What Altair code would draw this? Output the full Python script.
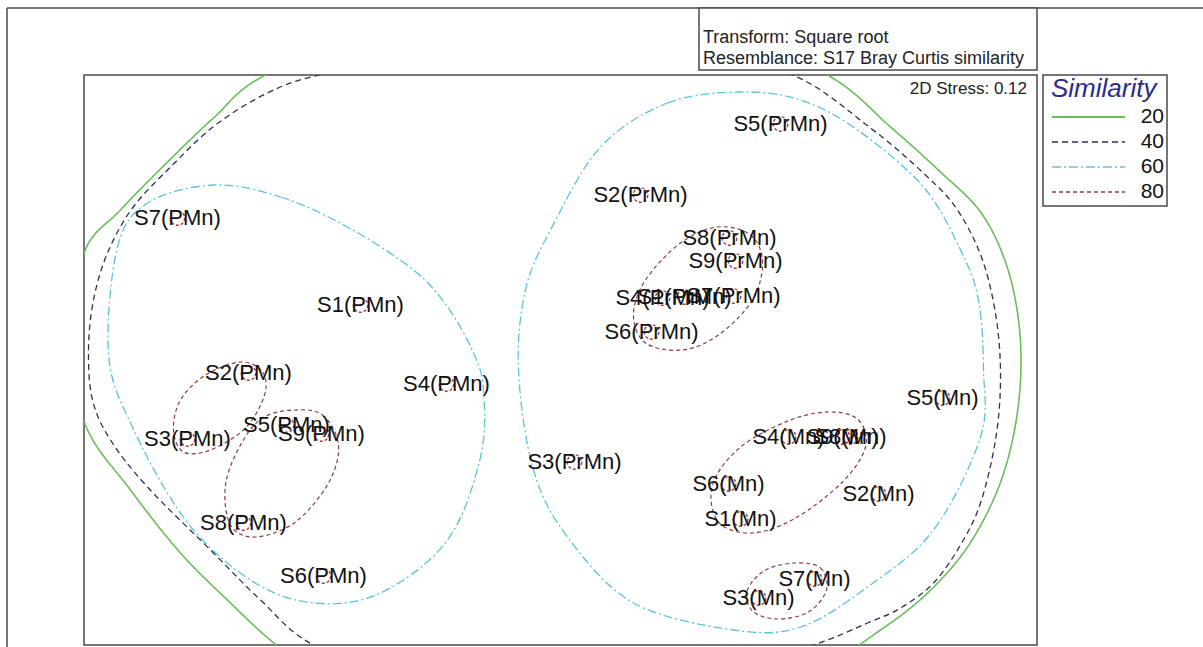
import altair as alt
import pandas as pd

# ---- NMDS scores (axis units) -------------------------------------------
pmn_labels = ["S7(PMn)", "S1(PMn)", "S2(PMn)", "S4(PMn)", "S5(PMn)",
              "S9(PMn)", "S3(PMn)", "S8(PMn)", "S6(PMn)"]
pmn_x = [-3.83, -2.00, -3.12, -1.14, -2.74, -2.39, -3.73, -3.17, -2.37]
pmn_y = [1.42, 0.55, -0.13, -0.24, -0.65, -0.74, -0.79, -1.63, -2.16]

prmn_labels = ["S5(PrMn)", "S2(PrMn)", "S8(PrMn)", "S9(PrMn)", "S4(PrMn)",
               "S1(PrMn)", "S7(PrMn)", "S6(PrMn)", "S3(PrMn)"]
prmn_x = [2.20, 0.80, 1.69, 1.75, 1.02, 1.24, 1.73, 0.91, 0.14]
prmn_y = [2.36, 1.65, 1.22, 0.99, 0.62, 0.63, 0.64, 0.28, -1.02]

mn_labels = ["S5(Mn)", "S4(Mn)", "S9(Mn)", "S8(Mn)", "S6(Mn)",
             "S2(Mn)", "S1(Mn)", "S7(Mn)", "S3(Mn)"]
mn_x = [3.82, 2.28, 2.82, 2.90, 1.68, 3.18, 1.80, 2.54, 1.98]
mn_y = [-0.38, -0.77, -0.77, -0.77, -1.24, -1.34, -1.59, -2.19, -2.38]

# ---- similarity contours (vertices, axis units) --------------------------
c20_x = [-1.60, 0.00, 1.50, 2.67, 3.30, 3.80, 4.20, 4.45, 4.58, 4.60, 4.52, 4.35,
         4.05, 3.65, 3.20, 2.70, 1.60, 0.00, -1.40, -2.30, -2.84, -3.30, -3.80,
         -4.30, -4.75, -4.88, -4.76, -4.40, -3.97, -3.47, -2.95]
c20_y = [3.40, 3.55, 3.35, 2.85, 2.33, 1.88, 1.48, 0.98, 0.40, -0.20, -0.80, -1.35,
         -1.90, -2.35, -2.70, -3.00, -3.40, -3.60, -3.45, -3.20, -2.85, -2.43, -1.93,
         -1.30, -0.65, 0.20, 1.08, 1.50, 1.94, 2.42, 2.85]

c40_x = [-1.40, 0.00, 1.30, 2.32, 3.10, 3.65, 3.97, 4.22, 4.36, 4.40, 4.35, 4.20,
         4.00, 3.73, 3.40, 3.07, 2.53, 1.40, 0.00, -1.40, -2.47, -3.00, -3.47, -4.13,
         -4.50, -4.68, -4.72, -4.67, -4.53, -4.28, -3.88, -3.45, -2.93, -2.42]
c40_y = [3.05, 3.15, 3.05, 2.85, 2.32, 1.85, 1.50, 1.00, 0.40, -0.20, -0.80, -1.43,
         -1.85, -2.23, -2.48, -2.63, -2.85, -3.20, -3.35, -3.25, -2.85, -2.40, -1.93,
         -1.27, -0.80, -0.40, 0.10, 0.60, 1.07, 1.52, 1.95, 2.35, 2.67, 2.85]

c60a_x = [-3.47, -2.80, -2.13, -1.47, -1.13, -0.87, -0.77, -0.80, -1.13, -1.80,
          -2.47, -3.10, -3.75, -4.30, -4.52, -4.43, -4.13]
c60a_y = [1.75, 1.63, 1.33, 0.90, 0.53, 0.07, -0.30, -0.97, -1.80, -2.33,
          -2.43, -2.20, -1.60, -0.63, 0.07, 1.13, 1.57]

c60b_x = [0.40, 1.07, 1.80, 2.40, 2.97, 3.63, 4.00, 4.18, 4.23, 4.20, 3.73, 3.07,
          2.40, 1.73, 0.73, 0.07, -0.27, -0.42, -0.35, -0.10]
c60b_y = [2.13, 2.57, 2.68, 2.60, 2.30, 1.73, 1.10, 0.60, -0.10, -0.77, -1.70, -2.27,
          -2.67, -2.70, -2.43, -1.77, -1.10, -0.10, 0.70, 1.30]

c80a_x = [-3.20, -2.98, -2.96, -3.15, -3.50, -3.77, -3.87, -3.80, -3.55]
c80a_y = [-0.02, -0.12, -0.35, -0.68, -0.90, -0.92, -0.70, -0.40, -0.15]

c80b_x = [-2.67, -2.38, -2.22, -2.32, -2.65, -3.05, -3.30, -3.35, -3.20, -2.98]
c80b_y = [-0.50, -0.55, -0.85, -1.23, -1.62, -1.77, -1.65, -1.25, -0.85, -0.58]

c80c_x = [1.57, 1.90, 2.02, 1.92, 1.58, 1.22, 0.85, 0.73, 0.85, 1.20]
c80c_y = [1.33, 1.25, 0.98, 0.60, 0.25, 0.10, 0.17, 0.45, 0.80, 1.17]

c80d_x = [2.70, 2.98, 3.05, 2.82, 2.35, 1.92, 1.58, 1.52, 1.80, 2.30]
c80d_y = [-0.52, -0.60, -0.87, -1.22, -1.58, -1.73, -1.62, -1.25, -0.87, -0.60]

c80e_x = [2.35, 2.60, 2.66, 2.48, 2.17, 1.92, 1.87, 2.05]
c80e_y = [-2.03, -2.08, -2.30, -2.52, -2.59, -2.51, -2.30, -2.10]

levels = ["20", "40", "60", "80"]
level_colors = ["#6bbd5b", "#2f2f52", "#5cc3dc", "#8c3b48"]
level_dash = [[1, 0], [6, 4], [9, 3, 2, 3], [4, 3]]
level_width = [1.6, 1.3, 1.3, 1.2]

# ---- tables ----------------------------------------------------------------
samples = pd.DataFrame({
    "label": pmn_labels + prmn_labels + mn_labels,
    "x": pmn_x + prmn_x + mn_x,
    "y": pmn_y + prmn_y + mn_y,
})

def contour_table(parts):
    rows = []
    for cid, (xs, ys) in enumerate(parts):
        for i, (a, b) in enumerate(zip(xs, ys)):
            rows.append({"cid": cid, "i": i, "x": a, "y": b})
    return pd.DataFrame(rows)

contours = {
    "20": contour_table([(c20_x, c20_y)]),
    "40": contour_table([(c40_x, c40_y)]),
    "60": contour_table([(c60a_x, c60a_y), (c60b_x, c60b_y)]),
    "80": contour_table([(c80a_x, c80a_y), (c80b_x, c80b_y), (c80c_x, c80c_y),
                         (c80d_x, c80d_y), (c80e_x, c80e_y)]),
}

one = pd.DataFrame({"k": [0]})  # single row for frame / annotation marks

W, H = 953, 570
xs = alt.Scale(domain=[-4.765, 4.765], nice=False, zero=False)
ys = alt.Scale(domain=[-2.85, 2.85], nice=False, zero=False)
X = alt.X("x:Q", scale=xs, axis=None)
Y = alt.Y("y:Q", scale=ys, axis=None)

FONT = "Liberation Sans"
layers = []

# contour lines
for k, lev in enumerate(levels):
    layers.append(
        alt.Chart(contours[lev]).mark_line(
            interpolate="cardinal-closed", clip=True,
            color=level_colors[k], strokeDash=level_dash[k],
            strokeWidth=level_width[k],
        ).encode(x=X, y=Y, detail="cid:N", order="i:Q")
    )

# 80% rings around single samples
layers.append(
    alt.Chart(samples).mark_point(
        shape="circle", size=210, filled=False, color="#a83a44",
        strokeDash=[3, 2], strokeWidth=1.4, opacity=1,
    ).encode(x=X, y=Y)
)

# sample labels
layers.append(
    alt.Chart(samples).mark_text(
        font=FONT, fontSize=22, color="#111111", align="center", baseline="middle",
    ).encode(x=X, y=Y, text="label:N")
)

# outer frame
frame_col = "#4a4a4a"
layers.append(alt.Chart(one).mark_rule(color=frame_col, strokeWidth=1.5).encode(
    x=alt.value(-77), x2=alt.value(1125), y=alt.value(-67)))
layers.append(alt.Chart(one).mark_rule(color=frame_col, strokeWidth=1.5).encode(
    x=alt.value(-77), y=alt.value(-67), y2=alt.value(600)))

# info box
layers.append(alt.Chart(one).mark_rect(fill="white", stroke=frame_col, strokeWidth=1.5).encode(
    x=alt.value(615), x2=alt.value(953), y=alt.value(-67), y2=alt.value(-5)))
layers.append(alt.Chart(one).mark_text(
    text="Transform: Square root", font=FONT, fontSize=18, color="#222",
    align="left", baseline="middle").encode(x=alt.value(619), y=alt.value(-37)))
layers.append(alt.Chart(one).mark_text(
    text="Resemblance: S17 Bray Curtis similarity", font=FONT, fontSize=18, color="#222",
    align="left", baseline="middle").encode(x=alt.value(619), y=alt.value(-16)))

# stress value
layers.append(alt.Chart(one).mark_text(
    text="2D Stress: 0.12", font=FONT, fontSize=17, color="#222",
    align="right", baseline="middle").encode(x=alt.value(943), y=alt.value(14)))

# legend
layers.append(alt.Chart(one).mark_rect(fill="white", stroke=frame_col, strokeWidth=1.5).encode(
    x=alt.value(959), x2=alt.value(1083), y=alt.value(0), y2=alt.value(131)))
layers.append(alt.Chart(one).mark_text(
    text="Similarity", font=FONT, fontSize=26, fontStyle="italic", color="#2b2b8c",
    align="left", baseline="middle").encode(x=alt.value(967), y=alt.value(14)))
for k, lev in enumerate(levels):
    yy = 42 + 25 * k
    layers.append(alt.Chart(one).mark_rule(
        color=level_colors[k], strokeDash=level_dash[k], strokeWidth=level_width[k] + 0.4,
    ).encode(x=alt.value(968), x2=alt.value(1041), y=alt.value(yy)))
    layers.append(alt.Chart(one).mark_text(
        text=lev, font=FONT, fontSize=21, color="#111",
        align="right", baseline="middle").encode(x=alt.value(1080), y=alt.value(yy)))

chart = alt.layer(*layers).properties(
    width=W, height=H,
    autosize=alt.AutoSizeParams(type="none"),
    padding={"left": 84, "top": 75, "right": 166, "bottom": 2},
    background="white",
).configure_view(stroke=frame_col, strokeWidth=1.5)

chart.save("out.html", embed_options={"renderer": "svg", "actions": False})
